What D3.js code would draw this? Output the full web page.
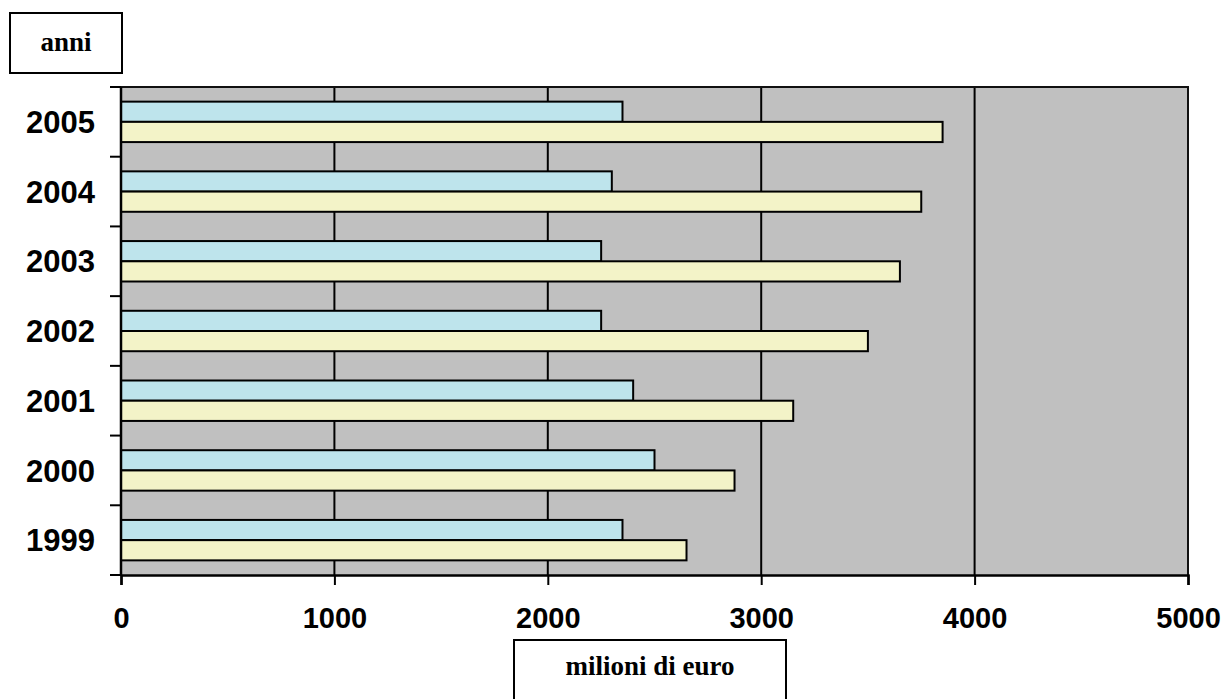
<!DOCTYPE html>
<html>
<head>
<meta charset="utf-8">
<script src="https://cdn.jsdelivr.net/npm/d3@7"></script>
<style>
  html, body { margin: 0; padding: 0; background: #fff; }
  svg { display: block; }
</style>
</head>
<body>
<svg id="chart" width="1226" height="699"></svg>
<script>
// Years shown on the vertical axis, top to bottom
const years = ["2005", "2004", "2003", "2002", "2001", "2000", "1999"];
// Values in millions of euro, same order as years
const seriesA = [2350, 2300, 2250, 2250, 2400, 2500, 2350];
const seriesB = [3850, 3750, 3650, 3500, 3150, 2875, 2650];
const xTicks = [0, 1000, 2000, 3000, 4000, 5000];
const seriesKeys = ["a", "b"];
const seriesColors = ["#bee4ec", "#f3f3c8"];

const rows = years.map((y, i) => ({ year: y, a: seriesA[i], b: seriesB[i] }));

const svg = d3.select("#chart");
const plot = { left: 121, top: 87, right: 1188, bottom: 575 };

const x = d3.scaleLinear().domain([0, 5000]).range([plot.left, plot.right]);
const y = d3.scaleBand().domain(years).range([plot.top, plot.bottom]).paddingInner(0.42).paddingOuter(0.21);
const ySub = d3.scaleBand().domain(seriesKeys).range([0, y.bandwidth()]);

// plot background
svg.append("rect")
  .attr("x", plot.left).attr("y", plot.top)
  .attr("width", plot.right - plot.left).attr("height", plot.bottom - plot.top)
  .attr("fill", "#c0c0c0");

// vertical gridlines
svg.append("g").selectAll("line")
  .data(xTicks.filter(t => t > 0 && t < 5000))
  .join("line")
  .attr("x1", d => x(d)).attr("x2", d => x(d))
  .attr("y1", plot.top).attr("y2", plot.bottom)
  .attr("stroke", "#000").attr("stroke-width", 2);

// plot frame: top and right edges
svg.append("path")
  .attr("d", `M${plot.left},${plot.top}H${plot.right}V${plot.bottom}`)
  .attr("fill", "none").attr("stroke", "#111").attr("stroke-width", 2);

// bars
const groups = svg.append("g").selectAll("g")
  .data(rows)
  .join("g")
  .attr("transform", d => `translate(0,${y(d.year)})`);

groups.selectAll("rect")
  .data(d => seriesKeys.map((k, i) => ({ key: k, value: d[k], color: seriesColors[i] })))
  .join("rect")
  .attr("x", x(0))
  .attr("y", d => ySub(d.key))
  .attr("width", d => x(d.value) - x(0))
  .attr("height", ySub.bandwidth())
  .attr("fill", d => d.color)
  .attr("stroke", "#000").attr("stroke-width", 2);

// x axis
const xAxis = d3.axisBottom(x).tickValues(xTicks).tickSize(10).tickPadding(22).tickFormat(d3.format("d"));
const gx = svg.append("g").attr("transform", `translate(0,${plot.bottom})`).call(xAxis);
gx.select(".domain").attr("stroke", "#000").attr("stroke-width", 2.5);
gx.selectAll(".tick line").attr("stroke", "#000").attr("stroke-width", 2);
gx.selectAll("text")
  .attr("font-family", "'Liberation Sans', Arial, sans-serif")
  .attr("font-weight", "bold").attr("font-size", 29).attr("fill", "#000");

// y axis: ticks at band boundaries, labels at band centers
const yBound = d3.scaleLinear().domain([0, years.length]).range([plot.top, plot.bottom]);
const gy = svg.append("g");
gy.append("line")
  .attr("x1", plot.left).attr("x2", plot.left)
  .attr("y1", plot.top).attr("y2", plot.bottom)
  .attr("stroke", "#000").attr("stroke-width", 2.5);
gy.selectAll(".tk")
  .data(d3.range(years.length + 1))
  .join("line")
  .attr("class", "tk")
  .attr("x1", plot.left - 11).attr("x2", plot.left)
  .attr("y1", d => yBound(d)).attr("y2", d => yBound(d))
  .attr("stroke", "#000").attr("stroke-width", 2);
gy.selectAll("text")
  .data(years)
  .join("text")
  .attr("x", 95)
  .attr("y", (d, i) => (yBound(i) + yBound(i + 1)) / 2)
  .attr("dy", "0.36em")
  .attr("text-anchor", "end")
  .attr("font-family", "'Liberation Sans', Arial, sans-serif")
  .attr("font-weight", "bold").attr("font-size", 31)
  .text(d => d);

// axis title boxes
function titleBox(bx, by, bw, bh, label, ty) {
  svg.append("rect")
    .attr("x", bx).attr("y", by).attr("width", bw).attr("height", bh)
    .attr("fill", "#fff").attr("stroke", "#000").attr("stroke-width", 2);
  svg.append("text")
    .attr("x", bx + bw / 2).attr("y", ty)
    .attr("text-anchor", "middle")
    .attr("font-family", "'Liberation Serif', 'Times New Roman', serif")
    .attr("font-weight", "bold").attr("font-size", 27)
    .text(label);
}
titleBox(10, 13, 112, 60, "anni", 51);
titleBox(514, 640, 272, 80, "milioni di euro", 675);
</script>
</body>
</html>
